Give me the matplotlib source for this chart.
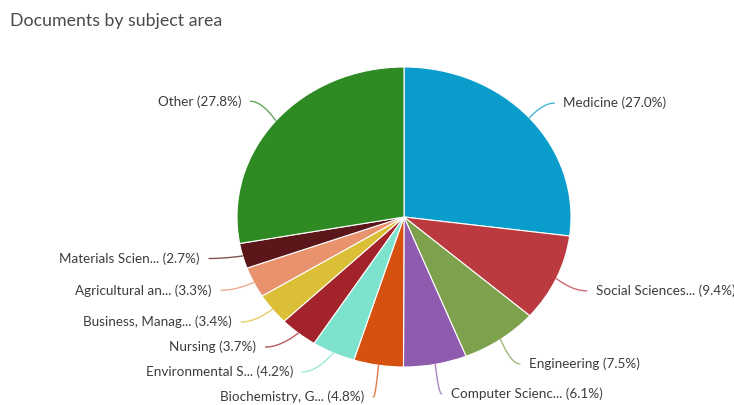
import numpy as np
import matplotlib.pyplot as plt

subjects = ["Medicine", "Social Sciences...", "Engineering", "Computer Scienc...",
            "Biochemistry, G...", "Environmental S...", "Nursing", "Business, Manag...",
            "Agricultural an...", "Materials Scien...", "Other"]
shares = [27.0, 9.4, 7.5, 6.1, 4.8, 4.2, 3.7, 3.4, 3.3, 2.7, 27.8]
colors = ["#0A9DCB", "#BA3A3F", "#7EA14E", "#8E5BAF", "#D6500F", "#7EE3CE",
          "#A3232B", "#DBBF36", "#E8926E", "#5B1619", "#2E8B23"]

W, H = 734, 405
cx, cy = 404, 217      # pie centre in pixels (from top)
rx, ry = 167, 150      # pie looks slightly stretched sideways

plt.rcParams['font.family'] = ['Lato', 'DejaVu Sans']
fig = plt.figure(figsize=(W / 100, H / 100), dpi=100)
ax = fig.add_axes([0, 0, 1, 1])

wedges, _ = ax.pie(shares, colors=colors, startangle=90, counterclock=False,
                   radius=1, center=(0, 0),
                   wedgeprops=dict(edgecolor="white", linewidth=0.8))
ax.set_aspect('auto')
ax.set_xlim(-cx / rx, (W - cx) / rx)
ax.set_ylim(-(H - cy) / ry, cy / ry)
ax.axis('off')

# label placement, roughly the way highcharts does it
R = 1.2
gap = 25 / ry
ymin = -1.2
total = sum(shares)
mids = []
acc = 0
for s in shares:
    mids.append(np.deg2rad((acc + s / 2) / total * 360))
    acc += s


def spread(ys):
    # ys: natural positions measured downwards, sorted ascending
    groups = [[y] for y in ys]
    def place(g):
        m = np.mean(g)
        return [m + gap * (i - (len(g) - 1) / 2) for i in range(len(g))]
    merged = True
    while merged:
        merged = False
        for i in range(1, len(groups)):
            if place(groups[i - 1])[-1] + gap > place(groups[i])[0]:
                groups[i - 1] = groups[i - 1] + groups.pop(i)
                merged = True
                break
    out = []
    for g in groups:
        out += place(g)
    # keep inside the bottom limit
    shift = max(0, out[-1] - (-ymin))
    out = [y - shift for y in out]
    for i in range(len(out) - 2, -1, -1):
        if out[i] + gap > out[i + 1]:
            out[i] = out[i + 1] - gap
    return out


anchors = {}
for side in (-1, 1):
    idx = [i for i, t in enumerate(mids) if np.sign(np.sin(t)) == side]
    idx.sort(key=lambda i: -R * np.cos(mids[i]))
    nat = [-R * np.cos(mids[i]) for i in idx]
    new = spread(nat)
    for i, yd in zip(idx, new):
        y = -yd
        nx = R * np.sin(mids[i])
        ex = side * R * np.sqrt(max(0.0, 1 - (y / R) ** 2))
        x = min(nx, ex) if side < 0 else max(nx, ex)
        anchors[i] = (x, y)

for i, t in enumerate(mids):
    x0, y0 = np.sin(t), np.cos(t)
    ax_, ay_ = anchors[i]
    # push top labels down a touch, like the reference
    if ay_ > 0:
        ay_ -= 5 / ry
    c = (x0 + (ax_ - x0) * 0.55, ay_)
    u = np.linspace(0, 1, 30)
    bx = (1 - u) ** 2 * x0 + 2 * (1 - u) * u * c[0] + u ** 2 * ax_
    by = (1 - u) ** 2 * y0 + 2 * (1 - u) * u * c[1] + u ** 2 * ay_
    ax.plot(bx, by, color=colors[i], lw=1, alpha=0.75, solid_capstyle='round')
    side = 1 if ax_ > 0 else -1
    ax.text(ax_ + side * 9 / rx, ay_, f"{subjects[i]} ({shares[i]:.1f}%)",
            ha='left' if side > 0 else 'right', va='center',
            fontsize=9.7, color="#3c3c3c", clip_on=False)

fig.text(10 / W, 1 - 21 / H, "Documents by subject area", fontsize=12.8,
         color="#4a4a4a", ha='left', va='center')

fig.savefig("out.png", dpi=100, facecolor="white")
